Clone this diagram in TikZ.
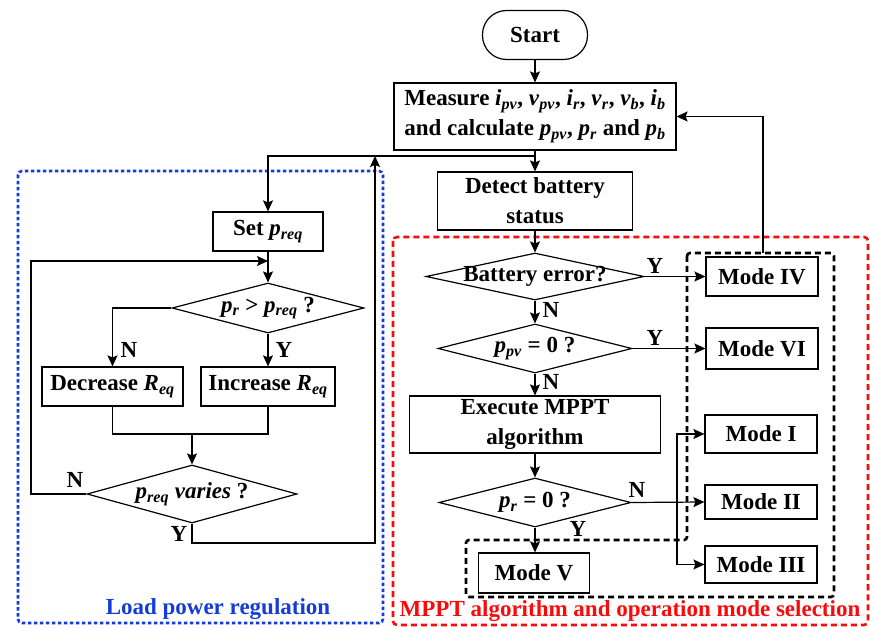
\documentclass[tikz,border=0pt]{standalone}
\usepackage{fontspec}
\setmainfont{Liberation Serif}
\usetikzlibrary{shapes.geometric,arrows.meta}
\newcommand{\vs}[2]{\textit{#1}\textsubscript{\textit{#2}}}
\definecolor{lpblue}{RGB}{20,60,215}
\definecolor{mpred}{RGB}{250,10,10}
\begin{document}
\begin{tikzpicture}[x=1pt,y=-1pt,
  txt/.style={font=\fontsize{23}{30}\selectfont\bfseries, align=center},
  box/.style={txt, draw, line width=1.2pt, inner sep=0pt},
  term/.style={box, rounded corners=24pt},
  dia/.style={txt, draw, line width=1.2pt, diamond, inner sep=0pt},
  lbl/.style={txt, inner sep=0pt},
  ln/.style={line width=1.2pt},
  flow/.style={line width=1.2pt, -{Stealth[length=11pt,width=10pt,inset=2pt]}},
  blueframe/.style={draw=lpblue, line width=2.6pt, dash pattern=on 3.5pt off 2.5pt, rounded corners=4pt},
  redframe/.style={draw=mpred, line width=2.6pt, dash pattern=on 6pt off 4pt, rounded corners=4pt},
  blackframe/.style={draw=black, line width=2.6pt, dash pattern=on 6pt off 4pt, rounded corners=3pt}
]
\useasboundingbox (0,0) rectangle (870,628);

% frames
\draw[blueframe] (18,171) rectangle (383,623);
\draw[redframe] (393,237) rectangle (868,625);
\draw[blackframe] (687,253) -- (687,540) -- (466,540) -- (466,597) -- (834,597) -- (834,253) -- cycle;
\node[lbl, text=lpblue] (lplabel) at (218,609) {Load power regulation};
\node[lbl, text=mpred] (mplabel) at (630,611) {MPPT algorithm and operation mode selection};

% nodes
\node[term, minimum width=105pt, minimum height=49pt] (start) at (535,35) {Start};
\node[box, minimum width=282pt, minimum height=67pt] (measure) at (535,116.5)
  {Measure \vs{i}{pv}, \vs{v}{pv}, \vs{i}{r}, \vs{v}{r}, \vs{v}{b}, \vs{i}{b}\\and calculate \vs{p}{pv}, \vs{p}{r} and \vs{p}{b}};
\node[box, minimum width=195pt, minimum height=58pt] (detect) at (535,201) {Detect battery\\status};
\node[box, minimum width=110pt, minimum height=39pt] (set) at (268,231.5) {Set \vs{p}{req}};
\node[dia, minimum width=192pt, minimum height=50pt] (d1) at (268,308) {\makebox[0pt]{\vs{p}{r} > \vs{p}{req} ?}};
\node[box, minimum width=141pt, minimum height=39pt] (dec) at (112.5,386.5) {Decrease \vs{R}{eq}};
\node[box, minimum width=134pt, minimum height=39pt] (inc) at (268,386.5) {Increase \vs{R}{eq}};
\node[dia, minimum width=210pt, minimum height=58pt] (d2) at (192,494) {\makebox[0pt]{\vs{p}{req} \textit{varies} ?}};

\node[dia, minimum width=218pt, minimum height=47pt] (de1) at (535,276.5) {\makebox[0pt]{Battery error?}};
\node[dia, minimum width=194pt, minimum height=49pt] (dp) at (535,348.5) {\makebox[0pt]{\vs{p}{pv} = 0 ?}};
\node[box, minimum width=251pt, minimum height=57pt] (mppt) at (535,424.5) {Execute MPPT\\algorithm};
\node[dia, minimum width=192pt, minimum height=49pt] (dr) at (535,502.5) {\makebox[0pt]{\vs{p}{r} = 0 ?}};
\node[box, minimum width=111pt, minimum height=40pt] (m5) at (534,573) {Mode V};

\node[box, minimum width=112pt, minimum height=39pt] (m4) at (762,276.5) {Mode IV};
\node[box, minimum width=112pt, minimum height=41pt] (m6) at (762,348.5) {Mode VI};
\node[box, minimum width=112pt, minimum height=38pt] (m1) at (761,434) {Mode I};
\node[box, minimum width=112pt, minimum height=34pt] (m2) at (761,502) {Mode II};
\node[box, minimum width=112pt, minimum height=37pt] (m3) at (761,564.5) {Mode III};

% coordinates
\coordinate (j1) at (535,156);
\coordinate (yt) at (375,156);
\coordinate (yr) at (375,543);
\coordinate (jl) at (268,261);
\coordinate (nl) at (31,494);
\coordinate (mg) at (192,434);
\coordinate (bk) at (763,253);
\coordinate (br) at (677,502.5);

% left connectors
\draw[flow] (start) -- (measure);
\draw[flow] (measure.south) -- (detect.north);
\draw[ln] (measure.south) -- (j1);
\draw[flow] (j1) -| (set.north);
\draw[flow] (set.south) -- (d1.north);
\draw[flow] (d1.west) -| (dec.north);
\draw[flow] (d1.south) -- (inc.north);
\draw[ln] (dec.south) |- (mg) -| (inc.south);
\draw[flow] (mg) -- (d2.north);
\draw[flow] (d2.west) -- (nl) |- (jl);
\draw[flow] (d2.south) |- (yr) -- (yt);
\node[lbl] (n1) at (129,350) {N};
\node[lbl] (y1) at (284,350) {Y};
\node[lbl] (n2) at (75,480) {N};
\node[lbl] (y2) at (179,534) {Y};

% right connectors
\draw[flow] (detect.south) -- (de1.north);
\draw[flow] (de1.east) -- (m4.west);
\draw[flow] (de1.south) -- (dp.north);
\draw[flow] (dp.east) -- (m6.west);
\draw[flow] (dp.south) -- (mppt.north);
\draw[flow] (mppt.south) -- (dr.north);
\draw[flow] (dr.east) -- (m2.west);
\draw[flow] (br) |- (m1.west);
\draw[flow] (br) |- (m3.west);
\draw[flow] (dr.south) -- (dr.south |- m5.north);
\draw[flow] (bk) |- (measure.east);
\node[lbl] (y3) at (655,266) {Y};
\node[lbl] (n3) at (551,310) {N};
\node[lbl] (y4) at (655,338) {Y};
\node[lbl] (n4) at (551,382) {N};
\node[lbl] (n5) at (637,490) {N};
\node[lbl] (y5) at (578,529) {Y};
\end{tikzpicture}
\end{document}
